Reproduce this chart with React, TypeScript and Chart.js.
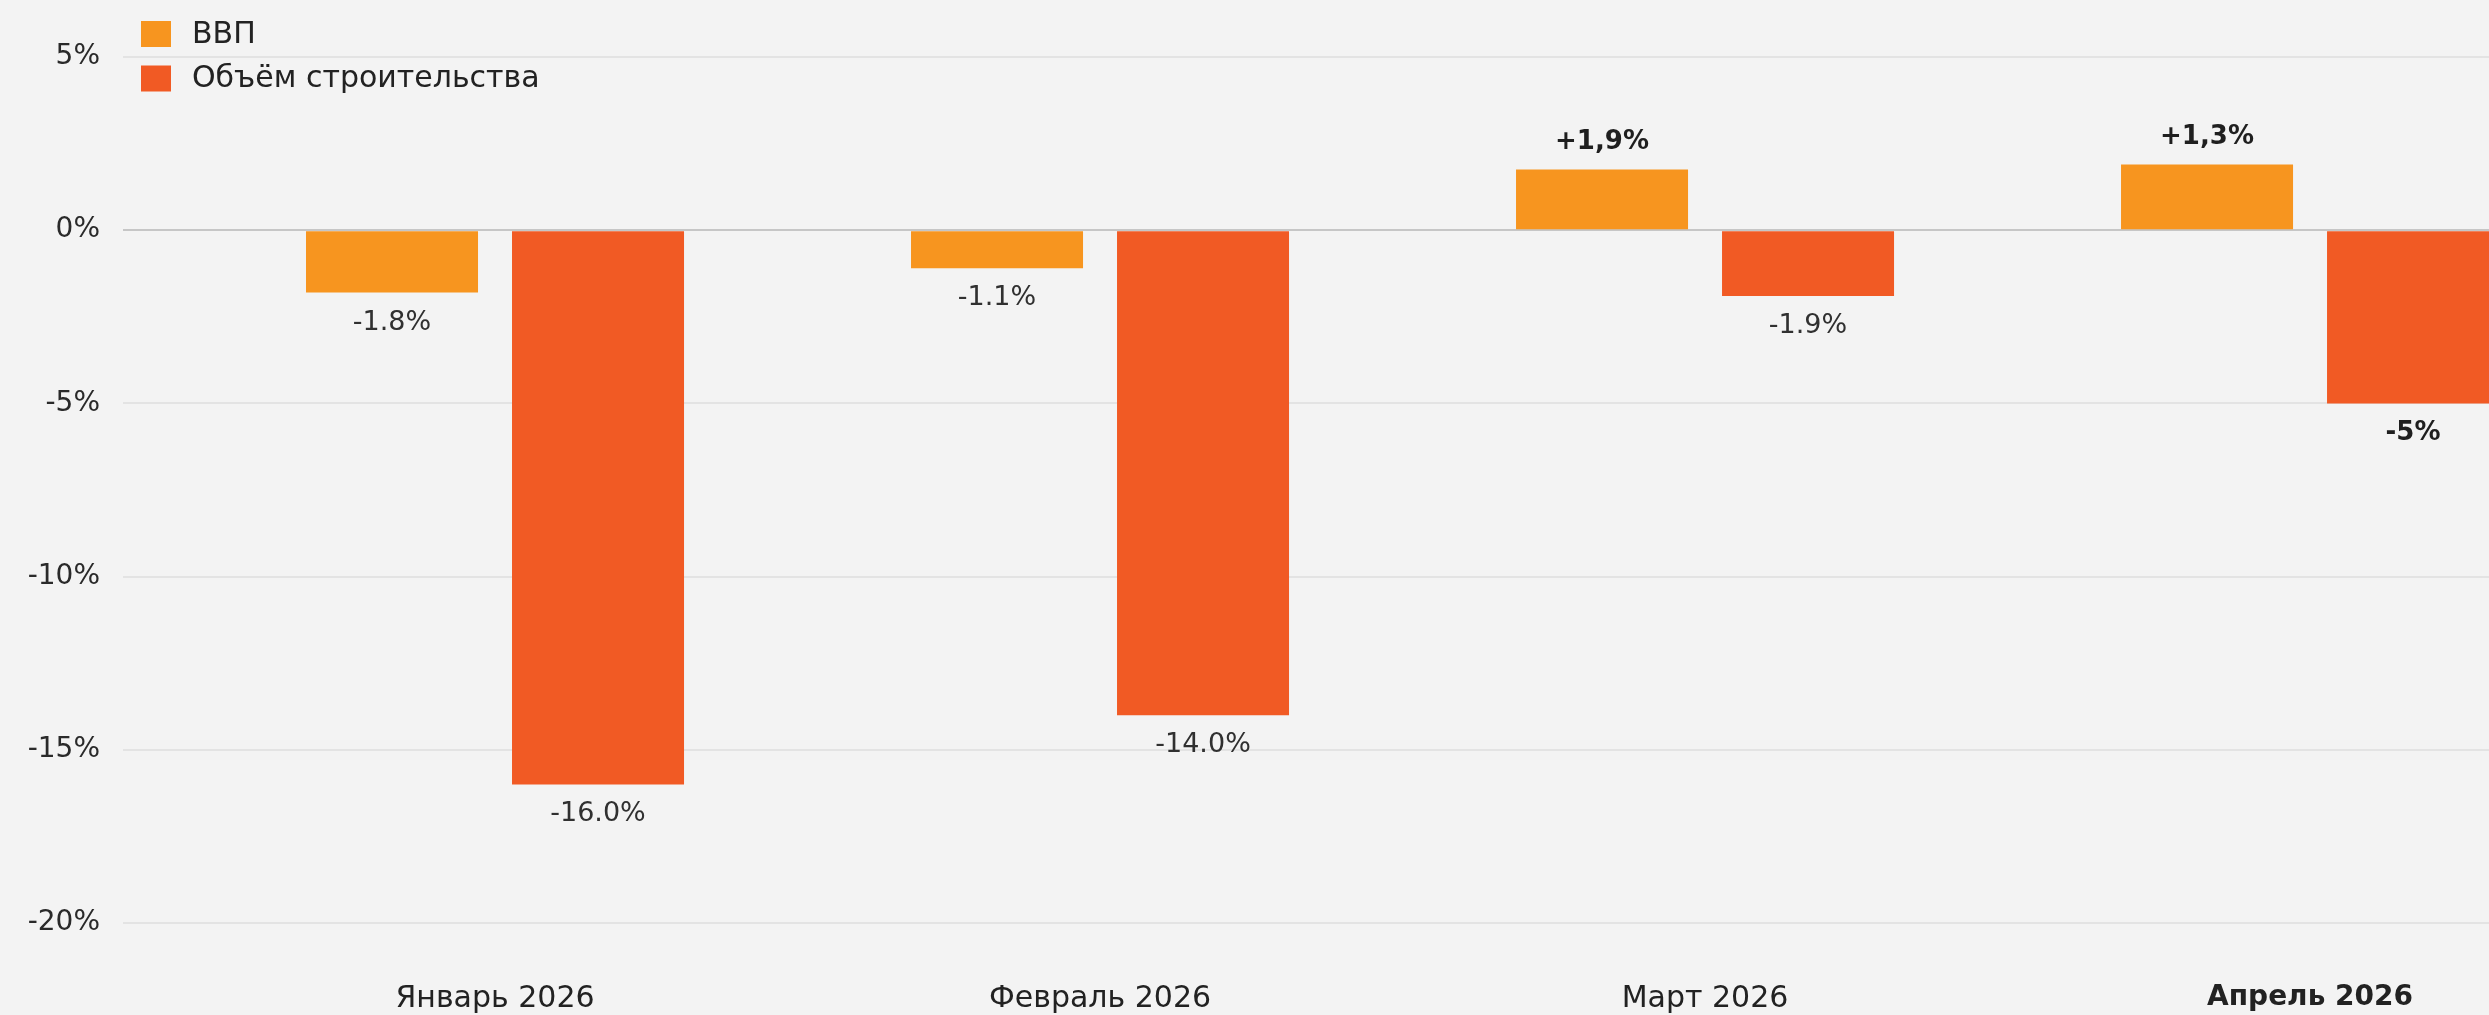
import { useEffect, useRef } from "react";
import { Chart, registerables } from "chart.js";

Chart.register(...registerables);

// ---- data ----
const categories = ["Январь 2026", "Февраль 2026", "Март 2026", "Апрель 2026"];
const seriesNames = ["ВВП", "Объём строительства"];
const gdpValues = [-1.8, -1.1, 1.75, 1.9];
const constructionValues = [-16.0, -14.0, -1.9, -5.0];
const gdpLabels = ["-1.8%", "-1.1%", "+1,9%", "+1,3%"];
const constructionLabels = ["-16.0%", "-14.0%", "-1.9%", "-5%"];
const gdpLabelBold = [false, false, true, true];
const constructionLabelBold = [false, false, false, true];
const yTickValues = [5, 0, -5, -10, -15, -20];
const highlightedCategory = "Апрель 2026";

// ---- style ----
const FONT = "'DejaVu Sans', 'Noto Sans', sans-serif";
const GDP_COLOR = "#f7951f";
const CON_COLOR = "#f15a24";
const BG = "#f3f3f3";
const W = 2489;
const H = 1015;

const valueLabels = [gdpLabels, constructionLabels];
const valueBold = [gdpLabelBold, constructionLabelBold];

const dataLabelPlugin = {
  id: "dataLabels",
  afterDatasetsDraw(chart: any) {
    const ctx = chart.ctx;
    ctx.save();
    chart.data.datasets.forEach((ds: any, di: number) => {
      const meta = chart.getDatasetMeta(di);
      meta.data.forEach((bar: any, i: number) => {
        const v = ds.data[i].y;
        const bold = valueBold[di][i];
        ctx.font = bold ? `bold 26px ${FONT}` : `27px ${FONT}`;
        ctx.fillStyle = bold ? "#1f1f1f" : "#303030";
        ctx.textAlign = "center";
        ctx.textBaseline = "middle";
        const y = v < 0 ? bar.y + 30 : bar.y - 27;
        ctx.fillText(valueLabels[di][i], bar.x, y);
      });
    });
    ctx.restore();
  },
};

const legendPlugin = {
  id: "customLegend",
  afterDraw(chart: any) {
    const ctx = chart.ctx;
    ctx.save();
    const items = chart.data.datasets;
    items.forEach((ds: any, i: number) => {
      const cy = 34 + i * 44.5;
      ctx.fillStyle = ds.backgroundColor;
      ctx.fillRect(141, cy - 13, 30, 26);
      ctx.font = `30px ${FONT}`;
      ctx.fillStyle = "#222222";
      ctx.textAlign = "left";
      ctx.textBaseline = "middle";
      ctx.fillText(ds.label, 192, cy + 1);
    });
    ctx.restore();
  },
};

export default function App() {
  const canvasRef = useRef<HTMLCanvasElement | null>(null);

  useEffect(() => {
    if (!canvasRef.current) return;
    const chart = new Chart(canvasRef.current, {
      type: "bar",
      data: {
        datasets: [
          {
            label: seriesNames[0],
            data: gdpValues.map((v, i) => ({ x: i, y: v })),
            backgroundColor: GDP_COLOR,
            borderWidth: 0,
          },
          {
            label: seriesNames[1],
            data: constructionValues.map((v, i) => ({ x: i, y: v })),
            backgroundColor: CON_COLOR,
            borderWidth: 0,
          },
        ],
      },
      options: {
        responsive: false,
        devicePixelRatio: 1,
        animation: false,
        categoryPercentage: 0.681,
        barPercentage: 0.835,
        layout: { padding: { top: 57, left: 0, right: 0, bottom: 0 } },
        plugins: {
          legend: { display: false },
          tooltip: { enabled: false },
        },
        scales: {
          x: {
            type: "linear",
            offset: false,
            min: -0.6149,
            max: 3.2958,
            grid: { display: false, drawTicks: false },
            border: { display: false },
            afterBuildTicks: (scale: any) => {
              scale.ticks = categories.map((_, i) => ({ value: i }));
            },
            afterFit: (scale: any) => {
              scale.height = 92;
            },
            ticks: {
              autoSkip: false,
              maxRotation: 0,
              padding: 58,
              color: "#222222",
              font: (c: any) => {
                const bold = c.tick && categories[c.tick.value] === highlightedCategory;
                return { family: FONT, size: bold ? 28 : 30, weight: bold ? "bold" : "normal" };
              },
              callback: (value: any) => categories[value] ?? "",
            },
          },
          y: {
            min: Math.min(...yTickValues),
            max: Math.max(...yTickValues),
            afterBuildTicks: (scale: any) => {
              scale.ticks = [...yTickValues].sort((a, b) => a - b).map((v) => ({ value: v }));
            },
            afterFit: (scale: any) => {
              scale.width = 123;
            },
            grid: {
              drawTicks: false,
              lineWidth: 2,
              color: (c: any) => (c.tick && c.tick.value === 0 ? "#c6c6c6" : "#e3e3e3"),
            },
            border: { display: false },
            ticks: {
              padding: 23,
              color: "#2a2a2a",
              font: { family: FONT, size: 28 },
              callback: (value: any) => `${value}%`,
            },
          },
        },
      },
      plugins: [dataLabelPlugin, legendPlugin],
    });
    return () => chart.destroy();
  }, []);

  return (
    <div
      style={{
        position: "absolute",
        left: 0,
        top: 0,
        width: W,
        height: H,
        background: BG,
        overflow: "hidden",
      }}
    >
      <canvas ref={canvasRef} width={W} height={H} style={{ display: "block" }} />
    </div>
  );
}
